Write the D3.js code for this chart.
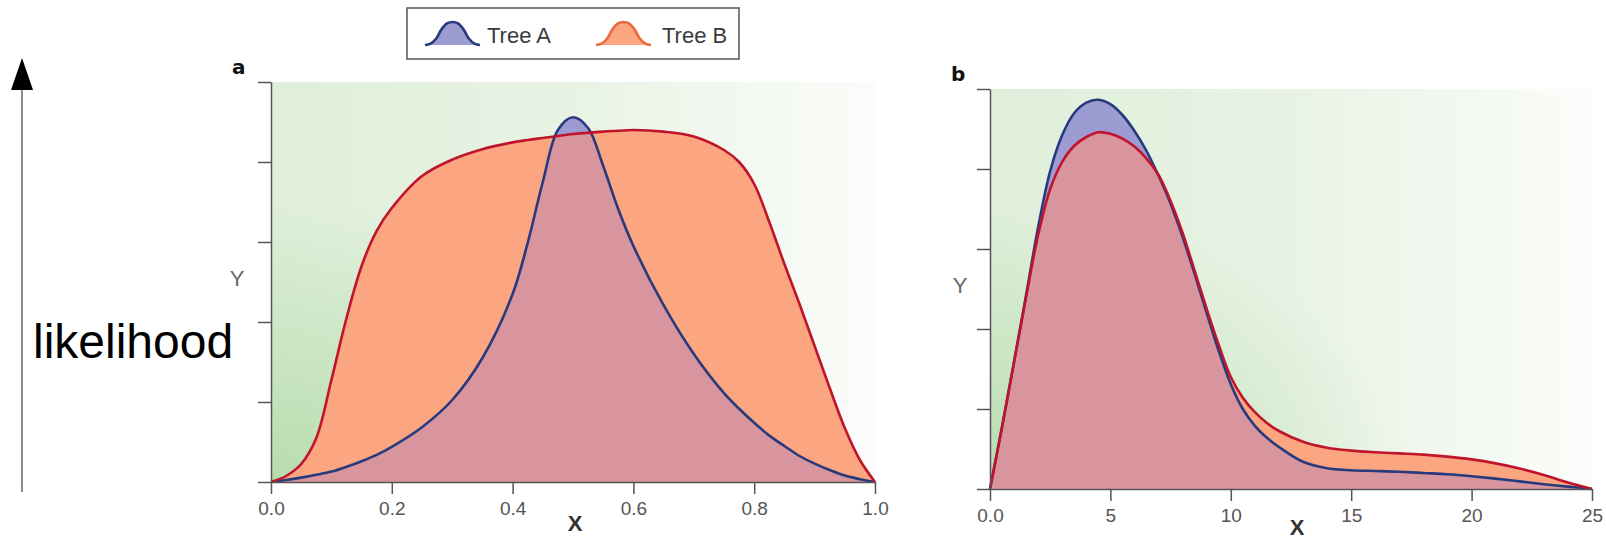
<!DOCTYPE html>
<html>
<head>
    <meta charset="UTF-8">
    <title>Tree A / Tree B likelihood</title>
    <script src="https://d3js.org/d3.v7.min.js"></script>

    <style>
        body {
            background-color: #ffffff;
            margin: 0;
            padding: 0;
        }
        svg { display: block; }
        .tick text {
            font-family: 'Liberation Sans', Arial, sans-serif;
            font-size: 19px;
            fill: #555;
        }
        .axis path, .axis line {
            stroke: #555;
            stroke-width: 1.5px;
        }
        .panel_label {
            font-family: 'DejaVu Sans', sans-serif;
            font-weight: 900;
            font-size: 20px;
            fill: #111;
        }
        .y_label {
            font-family: 'Liberation Sans', Arial, sans-serif;
            font-size: 22px;
            fill: #666;
        }
        .x_label {
            font-family: 'Liberation Sans', Arial, sans-serif;
            font-weight: bold;
            font-size: 22px;
            fill: #333;
        }
        .legend_text {
            font-family: 'Liberation Sans', Arial, sans-serif;
            font-size: 22px;
            fill: #3a3a3a;
        }
    </style>
</head>

<body>
    <svg width="1606" height="541"></svg>

    <script>
        // panel a: x grid and the two likelihood curves (fraction of axis height)
        const xGridA = [0, 0.025, 0.05, 0.075, 0.1, 0.125, 0.15, 0.175, 0.2, 0.25, 0.3, 0.35, 0.4,
            0.425, 0.45, 0.475, 0.5, 0.525, 0.55, 0.575, 0.6, 0.65, 0.7, 0.75, 0.775, 0.8, 0.825,
            0.85, 0.875, 0.9, 0.925, 0.95, 0.975, 1.0];
        const treeA_a = [0, 0.005, 0.011, 0.018, 0.026, 0.038, 0.052, 0.068, 0.088, 0.137, 0.205, 0.31, 0.47,
            0.598, 0.75, 0.88, 0.912, 0.885, 0.79, 0.682, 0.59, 0.442, 0.32, 0.222, 0.183, 0.148, 0.116,
            0.09, 0.065, 0.046, 0.03, 0.016, 0.007, 0];
        const treeB_a = [0, 0.015, 0.045, 0.11, 0.255, 0.41, 0.54, 0.628, 0.685, 0.765, 0.806, 0.832, 0.849,
            0.855, 0.86, 0.865, 0.87, 0.873, 0.876, 0.878, 0.88, 0.876, 0.864, 0.83, 0.80, 0.745, 0.65,
            0.545, 0.445, 0.34, 0.235, 0.135, 0.055, 0];

        // panel b
        const xGridB = [0, 0.5, 1, 1.5, 2, 2.5, 3, 3.5, 4, 4.5, 5, 5.5, 6, 6.5, 7, 7.5, 8, 8.5, 9, 9.5,
            10, 10.5, 11, 11.5, 12, 13, 14, 15, 16, 17, 18, 19, 20, 21, 22, 23, 24, 25];
        const treeA_b = [0, 0.155, 0.318, 0.485, 0.655, 0.795, 0.885, 0.94, 0.966, 0.973, 0.962, 0.935, 0.895,
            0.845, 0.783, 0.713, 0.63, 0.537, 0.44, 0.345, 0.262, 0.2, 0.158, 0.128, 0.105, 0.068, 0.052,
            0.047, 0.045, 0.043, 0.04, 0.037, 0.032, 0.026, 0.019, 0.012, 0.006, 0];
        const treeB_b = [0, 0.155, 0.318, 0.48, 0.635, 0.75, 0.818, 0.858, 0.88, 0.892, 0.888, 0.876, 0.856,
            0.826, 0.785, 0.72, 0.64, 0.545, 0.45, 0.36, 0.28, 0.228, 0.192, 0.165, 0.145, 0.118, 0.103,
            0.096, 0.092, 0.089, 0.086, 0.081, 0.074, 0.064, 0.051, 0.035, 0.016, 0];

        const xTicksA = [0, 0.2, 0.4, 0.6, 0.8, 1.0];
        const xTickLabelsA = ["0.0", "0.2", "0.4", "0.6", "0.8", "1.0"];
        const xTicksB = [0, 5, 10, 15, 20, 25];
        const xTickLabelsB = ["0.0", "5", "10", "15", "20", "25"];
        const yTicks = [0, 0.2, 0.4, 0.6, 0.8, 1.0];

        const seriesNames = ["Tree A", "Tree B"];
        // little bell used as legend key
        const bellX = [0, 0.1, 0.2, 0.3, 0.4, 0.5, 0.6, 0.7, 0.8, 0.9, 1];
        const bellY = [0, 0.06, 0.27, 0.68, 0.94, 1, 0.94, 0.68, 0.27, 0.06, 0];

        const blueFill = "#9c9bd2", blueLine = "#283a7e";
        const orangeFill = "#fba680", redLine = "#c0142c";
        const overlapFill = "#d8959e";

        let svg = d3.select("svg");
        let defs = svg.append("defs");
        const curve = d3.curveCatmullRom.alpha(0.5);

        // background: greenish from the left, strongest bottom-left
        let lin = defs.append("linearGradient").attr("id", "bgLin")
            .attr("x1", 0).attr("x2", 1).attr("y1", 0).attr("y2", 0);
        lin.append("stop").attr("offset", 0).attr("stop-color", "#dfefda");
        lin.append("stop").attr("offset", 0.5).attr("stop-color", "#e8f3e4");
        lin.append("stop").attr("offset", 1).attr("stop-color", "#fbfcfa");
        let rad = defs.append("radialGradient").attr("id", "bgRad")
            .attr("cx", 0).attr("cy", 1).attr("r", 0.7).attr("fx", 0).attr("fy", 1);
        rad.append("stop").attr("offset", 0).attr("stop-color", "#a9d69f").attr("stop-opacity", 0.75);
        rad.append("stop").attr("offset", 1).attr("stop-color", "#a9d69f").attr("stop-opacity", 0);

        function drawPanel(p) {
            let g = svg.append("g");
            let x = d3.scaleLinear().domain(p.domain).range([p.left, p.right]);
            let y = d3.scaleLinear().domain([0, 1]).range([p.bottom, p.top]);

            g.append("rect").attr("x", p.left).attr("y", p.top)
                .attr("width", p.right - p.left).attr("height", p.bottom - p.top)
                .attr("fill", "url(#bgLin)");
            g.append("rect").attr("x", p.left).attr("y", p.top)
                .attr("width", p.right - p.left).attr("height", p.bottom - p.top)
                .attr("fill", "url(#bgRad)");

            let rows = p.xs.map(function (v, i) { return { x: v, a: p.a[i], b: p.b[i] }; });

            let areaA = d3.area().x(d => x(d.x)).y0(y(0)).y1(d => y(d.a)).curve(curve);
            let areaB = d3.area().x(d => x(d.x)).y0(y(0)).y1(d => y(d.b)).curve(curve);
            let lineA = d3.line().x(d => x(d.x)).y(d => y(d.a)).curve(curve);
            let lineB = d3.line().x(d => x(d.x)).y(d => y(d.b)).curve(curve);

            g.append("path").attr("d", areaA(rows)).attr("fill", blueFill);
            g.append("path").attr("d", areaB(rows)).attr("fill", orangeFill);

            defs.append("clipPath").attr("id", "clipB_" + p.name)
                .append("path").attr("d", areaB(rows));
            g.append("path").attr("d", areaA(rows)).attr("fill", overlapFill)
                .attr("clip-path", "url(#clipB_" + p.name + ")");

            g.append("path").attr("d", lineA(rows)).attr("fill", "none")
                .attr("stroke", blueLine).attr("stroke-width", 2.6).attr("stroke-linejoin", "round");
            g.append("path").attr("d", lineB(rows)).attr("fill", "none")
                .attr("stroke", redLine).attr("stroke-width", 2.6).attr("stroke-linejoin", "round");

            g.append("g").attr("class", "axis")
                .attr("transform", "translate(" + p.left + ",0)")
                .call(d3.axisLeft(y).tickValues(yTicks).tickFormat("").tickSize(13).tickSizeOuter(0));
            g.append("g").attr("class", "axis")
                .attr("transform", "translate(0," + p.bottom + ")")
                .call(d3.axisBottom(x).tickValues(p.ticks)
                    .tickFormat((d, i) => p.labels[i])
                    .tickSize(12).tickSizeOuter(0).tickPadding(8));

            g.append("text").attr("class", "panel_label")
                .attr("x", p.left - 39).attr("y", p.top - 8).text(p.name);
            g.append("text").attr("class", "y_label").attr("text-anchor", "middle")
                .attr("x", p.left - p.yLabelOff).attr("y", (p.top + p.bottom) / 2 + 4).text("Y");
            g.append("text").attr("class", "x_label").attr("text-anchor", "middle")
                .attr("x", (p.left + p.right) / 2 + p.xLabelShift).attr("y", p.bottom + p.xLabelDrop).text("X");
        }

        drawPanel({ name: "a", domain: [0, 1], left: 271, right: 875, top: 82, bottom: 482,
            xs: xGridA, a: treeA_a, b: treeB_a, ticks: xTicksA, labels: xTickLabelsA,
            yLabelOff: 34, xLabelShift: 2, xLabelDrop: 49 });
        drawPanel({ name: "b", domain: [0, 25], left: 990, right: 1592, top: 89, bottom: 489,
            xs: xGridB, a: treeA_b, b: treeB_b, ticks: xTicksB, labels: xTickLabelsB,
            yLabelOff: 30, xLabelShift: 6, xLabelDrop: 46 });

        // legend
        let lg = svg.append("g");
        lg.append("rect").attr("x", 407).attr("y", 8).attr("width", 332).attr("height", 51)
            .attr("fill", "#fff").attr("stroke", "#555").attr("stroke-width", 1.5);
        let bell = bellX.map((v, i) => [v, bellY[i]]);
        let keys = [
            { x0: 425, fill: blueFill, stroke: blueLine, tx: 487 },
            { x0: 596, fill: orangeFill, stroke: "#ee6a3e", tx: 662 }
        ];
        keys.forEach(function (k, i) {
            let bx = d3.scaleLinear().domain([0, 1]).range([k.x0, k.x0 + 55]);
            let by = d3.scaleLinear().domain([0, 1]).range([45, 22]);
            lg.append("path")
                .attr("d", d3.area().x(d => bx(d[0])).y0(by(0)).y1(d => by(d[1])).curve(curve)(bell))
                .attr("fill", k.fill);
            lg.append("path")
                .attr("d", d3.line().x(d => bx(d[0])).y(d => by(d[1])).curve(curve)(bell))
                .attr("fill", "none").attr("stroke", k.stroke).attr("stroke-width", 2.6);
            lg.append("text").attr("class", "legend_text")
                .attr("x", k.tx).attr("y", 43).text(seriesNames[i]);
        });

        // big likelihood arrow on the left
        svg.append("line").attr("x1", 22).attr("x2", 22).attr("y1", 492).attr("y2", 88)
            .attr("stroke", "#666").attr("stroke-width", 1.5);
        svg.append("path").attr("d", "M11,90 L33,90 L22,58 Z").attr("fill", "#000");
        svg.append("text")
            .attr("x", 33).attr("y", 358)
            .style("font-family", "'Liberation Sans', Arial, sans-serif")
            .style("font-size", "48px")
            .style("fill", "#000")
            .text("likelihood");
    </script>
</body>
</html>
